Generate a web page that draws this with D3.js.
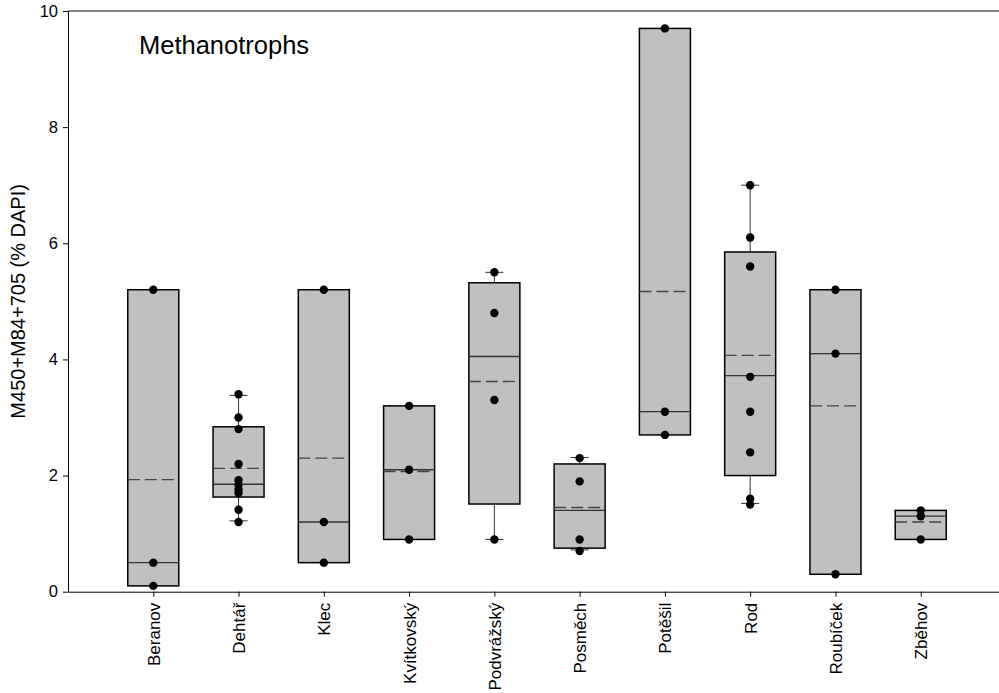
<!DOCTYPE html>
<html>
<head>
<meta charset="utf-8">
<script src="https://cdn.jsdelivr.net/npm/d3@7"></script>
<style>
  body { margin: 0; background: #fff; }
  svg { display: block; font-family: "Liberation Sans", Arial, sans-serif; }
</style>
</head>
<body>
<svg id="chart"></svg>
<script>
// values
const categories = ["Beranov", "Dehtář", "Klec", "Kvítkovský", "Podvrážský", "Posměch", "Potěšil", "Rod", "Roubíček", "Zběhov"];
const q1 = [0.1, 1.63, 0.5, 0.9, 1.51, 0.75, 2.7, 2.0, 0.3, 0.9];
const median = [0.5, 1.85, 1.2, 2.1, 4.05, 1.4, 3.1, 3.72, 4.1, 1.3];
const q3 = [5.2, 2.84, 5.2, 3.2, 5.32, 2.2, 9.7, 5.85, 5.2, 1.4];
const mean = [1.93, 2.125, 2.3, 2.07, 3.62, 1.45, 5.17, 4.07, 3.2, 1.2];
const whiskerLow = [null, 1.22, null, null, 0.9, 0.72, null, 1.52, null, null];
const whiskerHigh = [null, 3.38, null, null, 5.5, 2.31, null, 7.0, null, null];
const points = [
  [5.2, 0.5, 0.1],
  [3.4, 3.0, 2.8, 2.2, 1.92, 1.84, 1.76, 1.7, 1.41, 1.2],
  [5.2, 1.2, 0.5],
  [3.2, 2.1, 0.9],
  [5.5, 4.8, 3.3, 0.9],
  [2.3, 1.9, 0.9, 0.7],
  [9.7, 3.1, 2.7],
  [7.0, 6.1, 5.6, 3.7, 3.1, 2.4, 1.6, 1.5],
  [5.2, 4.1, 0.3],
  [1.4, 1.3, 0.9]
];
const yTicks = [0, 2, 4, 6, 8, 10];

const W = 999, H = 693;
const margin = { left: 68, right: 1006, top: 11, bottom: 591.7 };

const svg = d3.select("#chart").attr("width", W).attr("height", H);

const x = d3.scalePoint().domain(categories).range([margin.left, margin.right]).padding(1);
const y = d3.scaleLinear().domain([0, 10]).range([margin.bottom, margin.top]);

const boxW = 51, capW = 18;

const boxes = categories.map((c, i) => ({
  cat: c, q1: q1[i], med: median[i], q3: q3[i], mean: mean[i],
  lo: whiskerLow[i], hi: whiskerHigh[i], pts: points[i]
}));

const g = svg.append("g");

// whiskers
const wh = boxes.filter(d => d.lo != null);
g.selectAll("line.wlo").data(wh).join("line")
  .attr("class", "wlo")
  .attr("x1", d => x(d.cat)).attr("x2", d => x(d.cat))
  .attr("y1", d => y(d.q1)).attr("y2", d => y(d.lo))
  .attr("stroke", "#333").attr("stroke-width", 1);
g.selectAll("line.whi").data(wh).join("line")
  .attr("class", "whi")
  .attr("x1", d => x(d.cat)).attr("x2", d => x(d.cat))
  .attr("y1", d => y(d.q3)).attr("y2", d => y(d.hi))
  .attr("stroke", "#333").attr("stroke-width", 1);
["lo", "hi"].forEach(k => {
  g.selectAll("line.cap" + k).data(wh).join("line")
    .attr("class", "cap" + k)
    .attr("x1", d => x(d.cat) - capW / 2).attr("x2", d => x(d.cat) + capW / 2)
    .attr("y1", d => y(d[k])).attr("y2", d => y(d[k]))
    .attr("stroke", "#333").attr("stroke-width", 1);
});

// boxes
g.selectAll("rect.box").data(boxes).join("rect")
  .attr("class", "box")
  .attr("x", d => x(d.cat) - boxW / 2)
  .attr("y", d => y(d.q3))
  .attr("width", boxW)
  .attr("height", d => y(d.q1) - y(d.q3))
  .attr("fill", "#c0c0c0")
  .attr("stroke", "#000")
  .attr("stroke-width", 1.5);

// median
g.selectAll("line.med").data(boxes).join("line")
  .attr("class", "med")
  .attr("x1", d => x(d.cat) - boxW / 2).attr("x2", d => x(d.cat) + boxW / 2)
  .attr("y1", d => y(d.med)).attr("y2", d => y(d.med))
  .attr("stroke", "#333").attr("stroke-width", 1.3);

// mean
g.selectAll("line.mean").data(boxes).join("line")
  .attr("class", "mean")
  .attr("x1", d => x(d.cat) - boxW / 2).attr("x2", d => x(d.cat) + boxW / 2)
  .attr("y1", d => y(d.mean)).attr("y2", d => y(d.mean))
  .attr("stroke", "#444").attr("stroke-width", 1.3)
  .attr("stroke-dasharray", "12,5");

// data points
const dots = boxes.flatMap(d => d.pts.map(v => ({ cat: d.cat, v })));
g.selectAll("circle").data(dots).join("circle")
  .attr("cx", d => x(d.cat))
  .attr("cy", d => y(d.v))
  .attr("r", 4.2)
  .attr("fill", "#000");

// Y axis
const yAxis = svg.append("g")
  .attr("transform", `translate(${margin.left},0)`)
  .call(d3.axisLeft(y).tickValues(yTicks).tickSize(5).tickSizeOuter(0).tickPadding(5));
yAxis.selectAll("text").style("font-size", "16.5px").attr("fill", "#000");

// X axis
const xAxis = svg.append("g")
  .attr("transform", `translate(0,${margin.bottom})`)
  .call(d3.axisBottom(x).tickSize(5).tickSizeOuter(0));
xAxis.selectAll("text")
  .attr("transform", "rotate(-90)")
  .attr("x", -11).attr("y", 0).attr("dy", "0.35em")
  .style("text-anchor", "end")
  .style("font-size", "17px")
  .attr("fill", "#000");

// top frame
svg.append("line")
  .attr("x1", margin.left).attr("x2", margin.right)
  .attr("y1", y(10)).attr("y2", y(10))
  .attr("stroke", "#000");

// axis title
svg.append("text")
  .attr("transform", `translate(25,${(margin.top + margin.bottom) / 2}) rotate(-90)`)
  .attr("text-anchor", "middle")
  .style("font-size", "20px")
  .text("M450+M84+705 (% DAPI)");

// panel label
svg.append("text")
  .attr("x", 139).attr("y", 54)
  .style("font-size", "25.5px")
  .text("Methanotrophs");
</script>
</body>
</html>
